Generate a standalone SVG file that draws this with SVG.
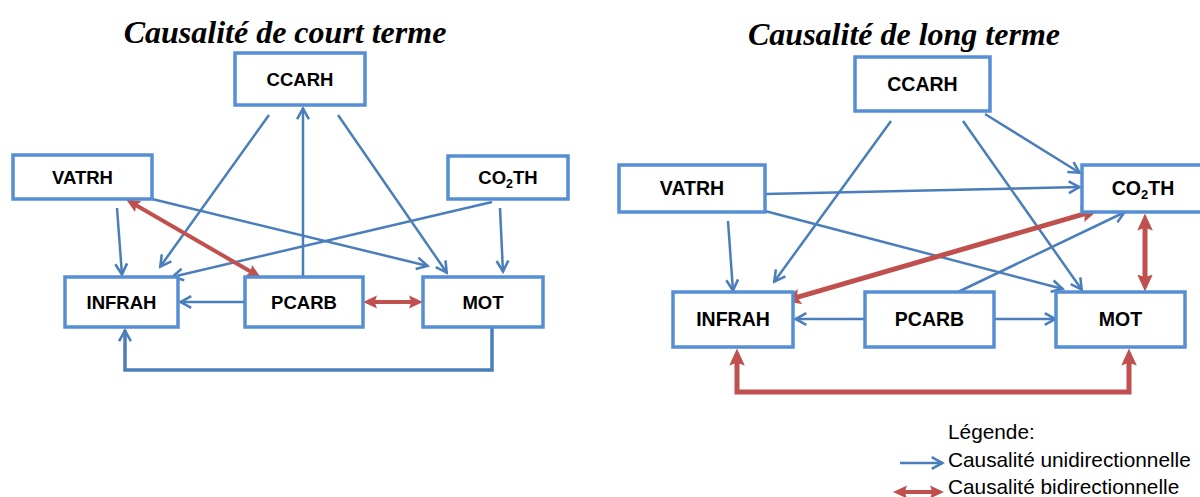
<svg xmlns="http://www.w3.org/2000/svg" width="1200" height="497" viewBox="0 0 1200 497">
<style>
.box{fill:#fff;stroke:#558ED5;stroke-width:3.5}
.lbl{font-family:"Liberation Sans",Arial,sans-serif;font-weight:bold;font-size:18.5px;fill:#000;text-anchor:middle}
.lblr{font-size:19.5px}
.title{font-family:"Liberation Serif","Times New Roman",serif;font-weight:bold;font-style:italic;font-size:32px;fill:#000;text-anchor:middle}
.leg{font-family:"Liberation Sans",Arial,sans-serif;font-size:20.8px;fill:#000}
.b{fill:none;stroke:#4A7EBB;stroke-width:2.5;marker-end:url(#ab)}
.r{fill:none;stroke:#C0504D;stroke-width:4;marker-start:url(#ar);marker-end:url(#ar)}
.rr{fill:none;stroke:#C0504D;stroke-width:5;marker-start:url(#arb);marker-end:url(#arb)}
</style>
<defs>
<marker id="ab" viewBox="0 0 14 14" refX="12.5" refY="7" markerWidth="15" markerHeight="15" markerUnits="userSpaceOnUse" orient="auto-start-reverse">
<path d="M2,1.5 L12,7 L2,12.5" fill="none" stroke="#4A7EBB" stroke-width="2.4"/>
</marker>
<marker id="ar" viewBox="0 0 12 12" refX="6" refY="6" markerWidth="14" markerHeight="14" markerUnits="userSpaceOnUse" orient="auto-start-reverse">
<path d="M0,0.5 L12,6 L0,11.5 L2,6 z" fill="#C0504D"/>
</marker>
<marker id="arb" viewBox="0 0 12 12" refX="6" refY="6" markerWidth="17" markerHeight="17" markerUnits="userSpaceOnUse" orient="auto-start-reverse">
<path d="M0,0.5 L12,6 L0,11.5 L2,6 z" fill="#C0504D"/>
</marker>
</defs>
<rect width="1200" height="497" fill="#fff"/>

<text class="title" x="285" y="43">Causalité de court terme</text>
<text class="title" x="904" y="45">Causalité de long terme</text>

<g id="connectors-short">
<line class="b" x1="269" y1="115" x2="160" y2="267"/>
<line class="b" x1="303" y1="277" x2="303" y2="108"/>
<line class="b" x1="338" y1="115" x2="447" y2="273"/>
<line class="b" x1="152" y1="199" x2="428" y2="266"/>
<line class="b" x1="117" y1="208" x2="122" y2="275"/>
<line class="b" x1="492" y1="202" x2="172" y2="277"/>
<line class="b" x1="500" y1="208" x2="503" y2="272"/>
<line class="b" x1="245" y1="302" x2="180" y2="302"/>
<path class="b" d="M492,327 L492,370 L125,370 L125,330" style="stroke-width:3.5"/>
<line class="r" x1="132.2" y1="203" x2="254.8" y2="274"/>
<line class="r" x1="370" y1="302" x2="416" y2="302"/>
</g>

<g id="connectors-long">
<line class="b" x1="891" y1="121" x2="774" y2="282"/>
<line class="b" x1="963" y1="121" x2="1082" y2="290"/>
<line class="b" x1="985" y1="114" x2="1080" y2="173"/>
<line class="b" x1="765" y1="194" x2="1080" y2="187"/>
<line class="b" x1="765" y1="211" x2="1063" y2="289"/>
<line class="b" x1="728" y1="221" x2="733" y2="291"/>
<line class="b" x1="958" y1="292" x2="1125" y2="212"/>
<line class="b" x1="865" y1="319" x2="795" y2="319"/>
<line class="b" x1="994" y1="319" x2="1056" y2="319"/>
<line class="rr" x1="791.7" y1="298.8" x2="1090.3" y2="212.2"/>
<line class="rr" x1="1145" y1="222" x2="1145" y2="283"/>
<path class="rr" d="M737,357 L737,392 L1129,392 L1129,357"/>
</g>

<g id="n-ccarh-s"><rect class="box" x="235" y="53" width="130" height="52"/><text class="lbl" x="300" y="85.5">CCARH</text></g>
<g id="n-vatrh-s"><rect class="box" x="13" y="155" width="139" height="44"/><text class="lbl" x="82.5" y="183.5">VATRH</text></g>
<g id="n-co2th-s"><rect class="box" x="448" y="156" width="120" height="43"/><text class="lbl" x="508" y="184">CO<tspan font-size="12.5" dy="4">2</tspan><tspan dy="-4">TH</tspan></text></g>
<g id="n-infrah-s"><rect class="box" x="65" y="277" width="113" height="50"/><text class="lbl" x="121.5" y="308.5">INFRAH</text></g>
<g id="n-pcarb-s"><rect class="box" x="245" y="277" width="118" height="50"/><text class="lbl" x="304" y="308.5">PCARB</text></g>
<g id="n-mot-s"><rect class="box" x="423" y="277" width="120" height="50"/><text class="lbl" x="483" y="308.5">MOT</text></g>

<g id="n-ccarh-l"><rect class="box" x="855" y="57" width="135" height="54"/><text class="lbl lblr" x="922.5" y="91">CCARH</text></g>
<g id="n-vatrh-l"><rect class="box" x="619" y="165" width="146" height="47"/><text class="lbl lblr" x="692" y="195">VATRH</text></g>
<g id="n-co2th-l"><rect class="box" x="1082" y="165" width="125" height="47"/><text class="lbl lblr" x="1143" y="195">CO<tspan font-size="13" dy="4">2</tspan><tspan dy="-4">TH</tspan></text></g>
<g id="n-infrah-l"><rect class="box" x="673" y="292" width="120" height="55"/><text class="lbl lblr" x="733" y="326">INFRAH</text></g>
<g id="n-pcarb-l"><rect class="box" x="865" y="292" width="129" height="55"/><text class="lbl lblr" x="929.5" y="326">PCARB</text></g>
<g id="n-mot-l"><rect class="box" x="1056" y="292" width="129" height="55"/><text class="lbl lblr" x="1120.5" y="326">MOT</text></g>

<g id="legend">
<text class="leg" x="948" y="439">Légende:</text>
<line class="b" x1="900" y1="463" x2="943" y2="463"/>
<text class="leg" x="948" y="467">Causalité unidirectionnelle</text>
<line class="r" x1="900" y1="492" x2="937" y2="492"/>
<text class="leg" x="948" y="494">Causalité bidirectionnelle</text>
</g>
</svg>
